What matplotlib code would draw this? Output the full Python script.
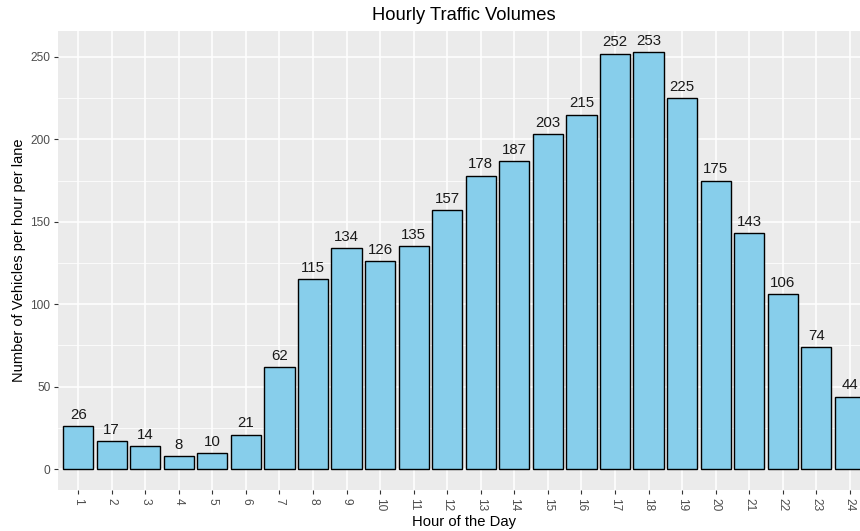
import matplotlib
matplotlib.use("Agg")
import matplotlib.pyplot as plt
import numpy as np

plt.rcParams['font.family'] = ['Liberation Sans', 'DejaVu Sans']

hours = list(range(1, 25))
volumes = [26, 17, 14, 8, 10, 21, 62, 115, 134, 126, 135, 157,
           178, 187, 203, 215, 252, 253, 225, 175, 143, 106, 74, 44]
tick_labels = [str(h) for h in hours]
title = "Hourly Traffic Volumes"
x_label = "Hour of the Day"
y_label = "Number of Vehicles per hour per lane"

W, H = 860, 531
fig = plt.figure(figsize=(W / 100, H / 100), dpi=100)
# panel in pixel coordinates (extends past the right edge of the canvas)
left, right, top, bottom = 58, 870, 31, 490
ax = fig.add_axes([left / W, 1 - bottom / H, (right - left) / W, (bottom - top) / H])

ax.set_facecolor('#EBEBEB')
for s in ax.spines.values():
    s.set_visible(False)

ymax = max(volumes)
pad = ymax * 0.05
ax.set_ylim(-pad, ymax + pad)
ax.set_xlim(0.4, 24.6)

# grid
ax.set_yticks([0, 50, 100, 150, 200, 250])
ax.set_yticks([25, 75, 125, 175, 225], minor=True)
ax.set_xticks(hours)
ax.set_xticklabels(tick_labels, rotation=270)
ax.grid(True, which='major', color='white', linewidth=1.1)
ax.grid(True, which='minor', axis='y', color='white', linewidth=0.55)
ax.set_axisbelow(True)

ax.tick_params(axis='both', which='major', length=3, width=0.8, color='#333333',
               labelcolor='#4D4D4D', labelsize=8.6, pad=2.5)
ax.tick_params(axis='both', which='minor', length=0)

ax.bar(hours, volumes, width=0.9, color='#87CEEB', edgecolor='black', linewidth=1.0, zorder=3)
for h, v in zip(hours, volumes):
    ax.text(h, v + 2.5, str(v), ha='center', va='bottom', fontsize=10.8, color='#1a1a1a', zorder=4)

fig.text(464 / W, 1 - 16 / H, title, ha='center', va='center', fontsize=13.2, color='black')
fig.text(464 / W, 1 - 522 / H, x_label, ha='center', va='center', fontsize=10.6, color='black')
fig.text(19 / W, 1 - 260 / H, y_label, ha='center', va='center', rotation=90, fontsize=10.5, color='black')

fig.savefig('out.png', dpi=100, facecolor='white')
